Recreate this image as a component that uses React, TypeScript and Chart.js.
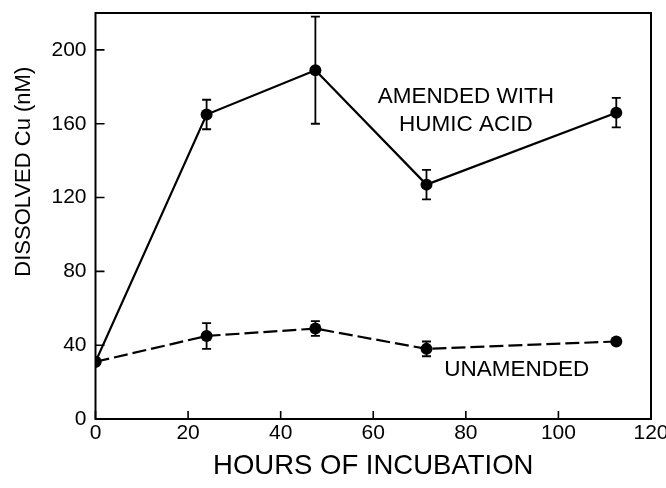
import React, { useEffect, useRef } from "react";
import { Chart, registerables } from "chart.js";

Chart.register(...registerables);

const hours = [0, 24, 47.5, 71.5, 112.5];
const amended = [31, 165, 189, 127, 166];
const amendedErr = [0, 8, 29, 8, 8];
const unamended = [31, 45, 49, 38, 42];
const unamendedErr = [0, 7, 4, 4, 0];
const xTicks = [0, 20, 40, 60, 80, 100, 120];
const yTicks = [0, 40, 80, 120, 160, 200];
const yTitle = "DISSOLVED Cu (nM)";
const xTitle = "HOURS OF INCUBATION";
const labels = [
  { text: "AMENDED WITH", x: 80, y: 174.5 },
  { text: "HUMIC ACID", x: 80, y: 159.5 },
  { text: "UNAMENDED", x: 91, y: 26.5 },
];

const FONT = "'Liberation Sans', Arial, Helvetica, sans-serif";

const customPlugin = {
  id: "custom",
  afterDatasetsDraw(chart: any) {
    const ctx = chart.ctx;
    const xs = chart.scales.x;
    const ys = chart.scales.y;
    const area = chart.chartArea;
    ctx.save();
    ctx.strokeStyle = "#000";
    ctx.fillStyle = "#000";
    // box
    ctx.lineWidth = 2;
    ctx.strokeRect(area.left, area.top, area.right - area.left, area.bottom - area.top);
    // inward ticks
    ctx.lineWidth = 1.6;
    ctx.beginPath();
    yTicks.forEach((v) => {
      const py = ys.getPixelForValue(v);
      ctx.moveTo(area.left, py);
      ctx.lineTo(area.left + 9, py);
    });
    xTicks.forEach((v) => {
      const px = xs.getPixelForValue(v);
      ctx.moveTo(px, area.bottom);
      ctx.lineTo(px, area.bottom - 8);
    });
    ctx.stroke();
    // error bars
    const drawErr = (vals: number[], errs: number[]) => {
      vals.forEach((v, i) => {
        const e = errs[i];
        if (!e) return;
        const px = xs.getPixelForValue(hours[i]);
        const top = ys.getPixelForValue(v + e);
        const bot = ys.getPixelForValue(v - e);
        ctx.beginPath();
        ctx.moveTo(px, top);
        ctx.lineTo(px, bot);
        ctx.moveTo(px - 4.5, top);
        ctx.lineTo(px + 4.5, top);
        ctx.moveTo(px - 4.5, bot);
        ctx.lineTo(px + 4.5, bot);
        ctx.stroke();
      });
    };
    ctx.lineWidth = 1.8;
    drawErr(amended, amendedErr);
    drawErr(unamended, unamendedErr);
    // annotations
    ctx.font = `22.5px ${FONT}`;
    ctx.textAlign = "center";
    ctx.textBaseline = "middle";
    labels.forEach((l) => {
      ctx.fillText(l.text, xs.getPixelForValue(l.x), ys.getPixelForValue(l.y));
    });
    // y axis title
    ctx.save();
    ctx.font = `22px ${FONT}`;
    ctx.translate(24, ys.getPixelForValue(134));
    ctx.rotate(-Math.PI / 2);
    ctx.fillText(yTitle, 0, 0);
    ctx.restore();
    ctx.restore();
  },
};

export default function App() {
  const ref = useRef<HTMLCanvasElement | null>(null);
  useEffect(() => {
    if (!ref.current) return;
    const chart = new Chart(ref.current, {
      type: "scatter",
      data: {
        datasets: [
          {
            data: hours.map((h, i) => ({ x: h, y: amended[i] })),
            showLine: true,
            borderColor: "#000",
            backgroundColor: "#000",
            borderWidth: 2.2,
            pointRadius: 6,
            pointBorderWidth: 0,
          },
          {
            data: hours.map((h, i) => ({ x: h, y: unamended[i] })),
            showLine: true,
            borderColor: "#000",
            backgroundColor: "#000",
            borderWidth: 2.2,
            borderDash: [14, 5],
            pointRadius: 6,
            pointBorderWidth: 0,
          },
        ],
      },
      options: {
        responsive: false,
        animation: false,
        layout: { padding: { top: 13, right: 15, left: 0, bottom: 0 } },
        plugins: { legend: { display: false }, tooltip: { enabled: false } },
        scales: {
          x: {
            type: "linear",
            min: 0,
            max: 120,
            grid: { display: false, drawTicks: false },
            border: { display: false },
            ticks: { stepSize: 20, padding: 2, color: "#000", font: { family: FONT, size: 21 }, maxRotation: 0 },
            afterBuildTicks: (s: any) => {
              s.ticks = xTicks.map((v) => ({ value: v }));
            },
            afterFit: (s: any) => {
              s.height = 69;
              s.paddingLeft = 0;
              s.paddingRight = 0;
            },
            title: {
              display: true,
              text: xTitle,
              color: "#000",
              font: { family: FONT, size: 27.5 },
              padding: { top: 0, bottom: 5 },
            },
          },
          y: {
            type: "linear",
            min: 0,
            max: 220,
            grid: { display: false, drawTicks: false },
            border: { display: false },
            ticks: { stepSize: 40, padding: 9, color: "#000", font: { family: FONT, size: 21 } },
            afterBuildTicks: (s: any) => {
              s.ticks = yTicks.map((v) => ({ value: v }));
            },
            afterFit: (s: any) => {
              s.width = 95.5;
              s.paddingTop = 0;
              s.paddingBottom = 0;
            },
            title: { display: false },
          },
        },
      },
      plugins: [customPlugin],
    } as any);
    return () => chart.destroy();
  }, []);
  return (
    <div style={{ position: "fixed", left: 0, top: 0, width: 666, height: 488, background: "#fff" }}>
      <canvas ref={ref} width={666} height={488} />
    </div>
  );
}
